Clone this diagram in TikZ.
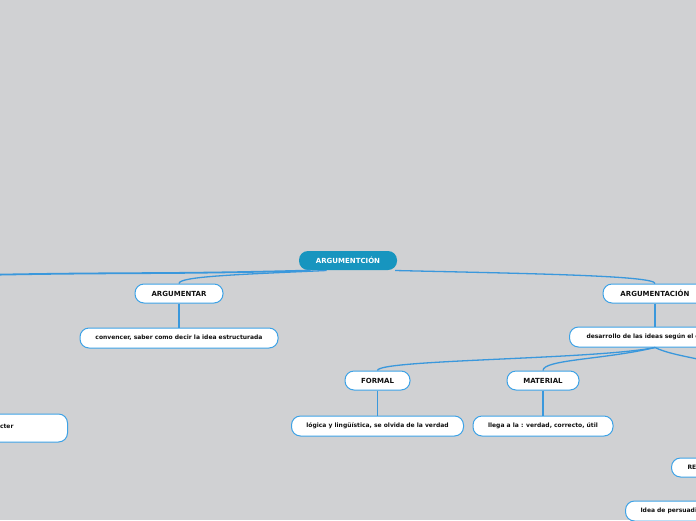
\documentclass[tikz,border=0pt]{standalone}
\usepackage{fontspec}
\setmainfont{DejaVu Sans}
\usetikzlibrary{positioning}
\definecolor{mapbg}{HTML}{D0D1D3}
\definecolor{rootblue}{HTML}{1795BF}
\definecolor{linkblue}{HTML}{3A98DC}
\definecolor{edgeblue}{HTML}{3DA2E6}
\definecolor{darktext}{HTML}{111111}

\begin{document}
\begin{tikzpicture}[
  x=1pt, y=-1pt,
  node distance=24pt,
  topic/.style={rectangle, rounded corners=9pt, draw=edgeblue, line width=1pt, fill=white, minimum height=19pt, inner sep=0pt, font=\bfseries\fontsize{6}{7}\selectfont, text=darktext},
  heading/.style={topic, font=\bfseries\fontsize{7}{8}\selectfont},
  rootbox/.style={heading, draw=none, fill=rootblue, text=white},
  link/.style={draw=linkblue, line width=1.3pt},
]

%% Canvas
\useasboundingbox (0,0) rectangle (696,520);
\fill[mapbg] (0,0) rectangle (696,520);
\clip (0,0) rectangle (696,520);

%% Root
\node[rootbox, minimum width=98pt] (root) at (348,260.5) {ARGUMENTCIÓN};

%% Left branch
\node[heading, minimum width=88pt] (argumentar) at (179,293.5) {ARGUMENTAR};
\node[topic, minimum width=198pt, minimum height=20pt, below=24pt of argumentar] (convencer) {convencer, saber como decir la idea estructurada};

%% Right branch
\node[heading, minimum width=104pt] (argumentacion) at (655,293.5) {ARGUMENTACIÓN};
\node[topic, anchor=west, minimum height=20pt, text width=160pt, align=left, inner xsep=17pt] (desarrollo) at (569,337) {desarrollo de las ideas según el c};

\node[heading, minimum width=65pt] (formal) at (377.5,380.5) {FORMAL};
\node[topic, minimum width=172pt, minimum height=20pt, below=25pt of formal] (logica) {lógica y lingüística, se olvida de la verdad};
\node[heading, minimum width=72pt] (material) at (543,380.5) {MATERIAL};
\node[topic, minimum width=140pt, minimum height=20pt, below=25pt of material] (llega) {llega a la : verdad, correcto, útil};

%% Cut-off nodes
\node[topic, anchor=east, minimum height=28pt, text width=60pt, align=right, inner xsep=54pt] (caracter) at (68,428) {\raisebox{4pt}{cter}};
\node[topic, anchor=west, text width=60pt, align=left, inner xsep=16pt] (re) at (671,467.5) {RE};
\node[topic, anchor=west, minimum height=20pt, text width=120pt, align=left, inner xsep=15pt] (persuasion) at (625,511) {Idea de persuadi};

%% Off-canvas ends
\coordinate (offleft) at (-20,275);
\coordinate (offright) at (740,372);
\coordinate (hub) at (argumentacion.south |- desarrollo.south);

%% Connectors
\draw[link, line width=1.8pt] (root.195) .. controls +(-150,4) and +(150,-3) .. (offleft);
\draw[link] (argumentar.north) .. controls +(0,-7) and +(-90,4) .. (root.205);
\draw[link] (argumentar) -- (convencer);
\draw[link] (argumentacion.north) .. controls +(0,-8) and +(130,3) .. (root.-12);
\draw[link] (argumentacion.south) -- (argumentacion.south |- desarrollo.north);
\draw[link] (formal.north) .. controls +(0,-11) and +(-60,12) .. (hub);
\draw[link] (material.north) .. controls +(0,-11) and +(-50,12) .. (hub);
\draw[link] (hub) .. controls +(20,10) and +(-20,-12) .. (offright);
\draw[link] (formal) -- (logica);
\draw[link] (material) -- (llega);

\end{tikzpicture}
\end{document}
